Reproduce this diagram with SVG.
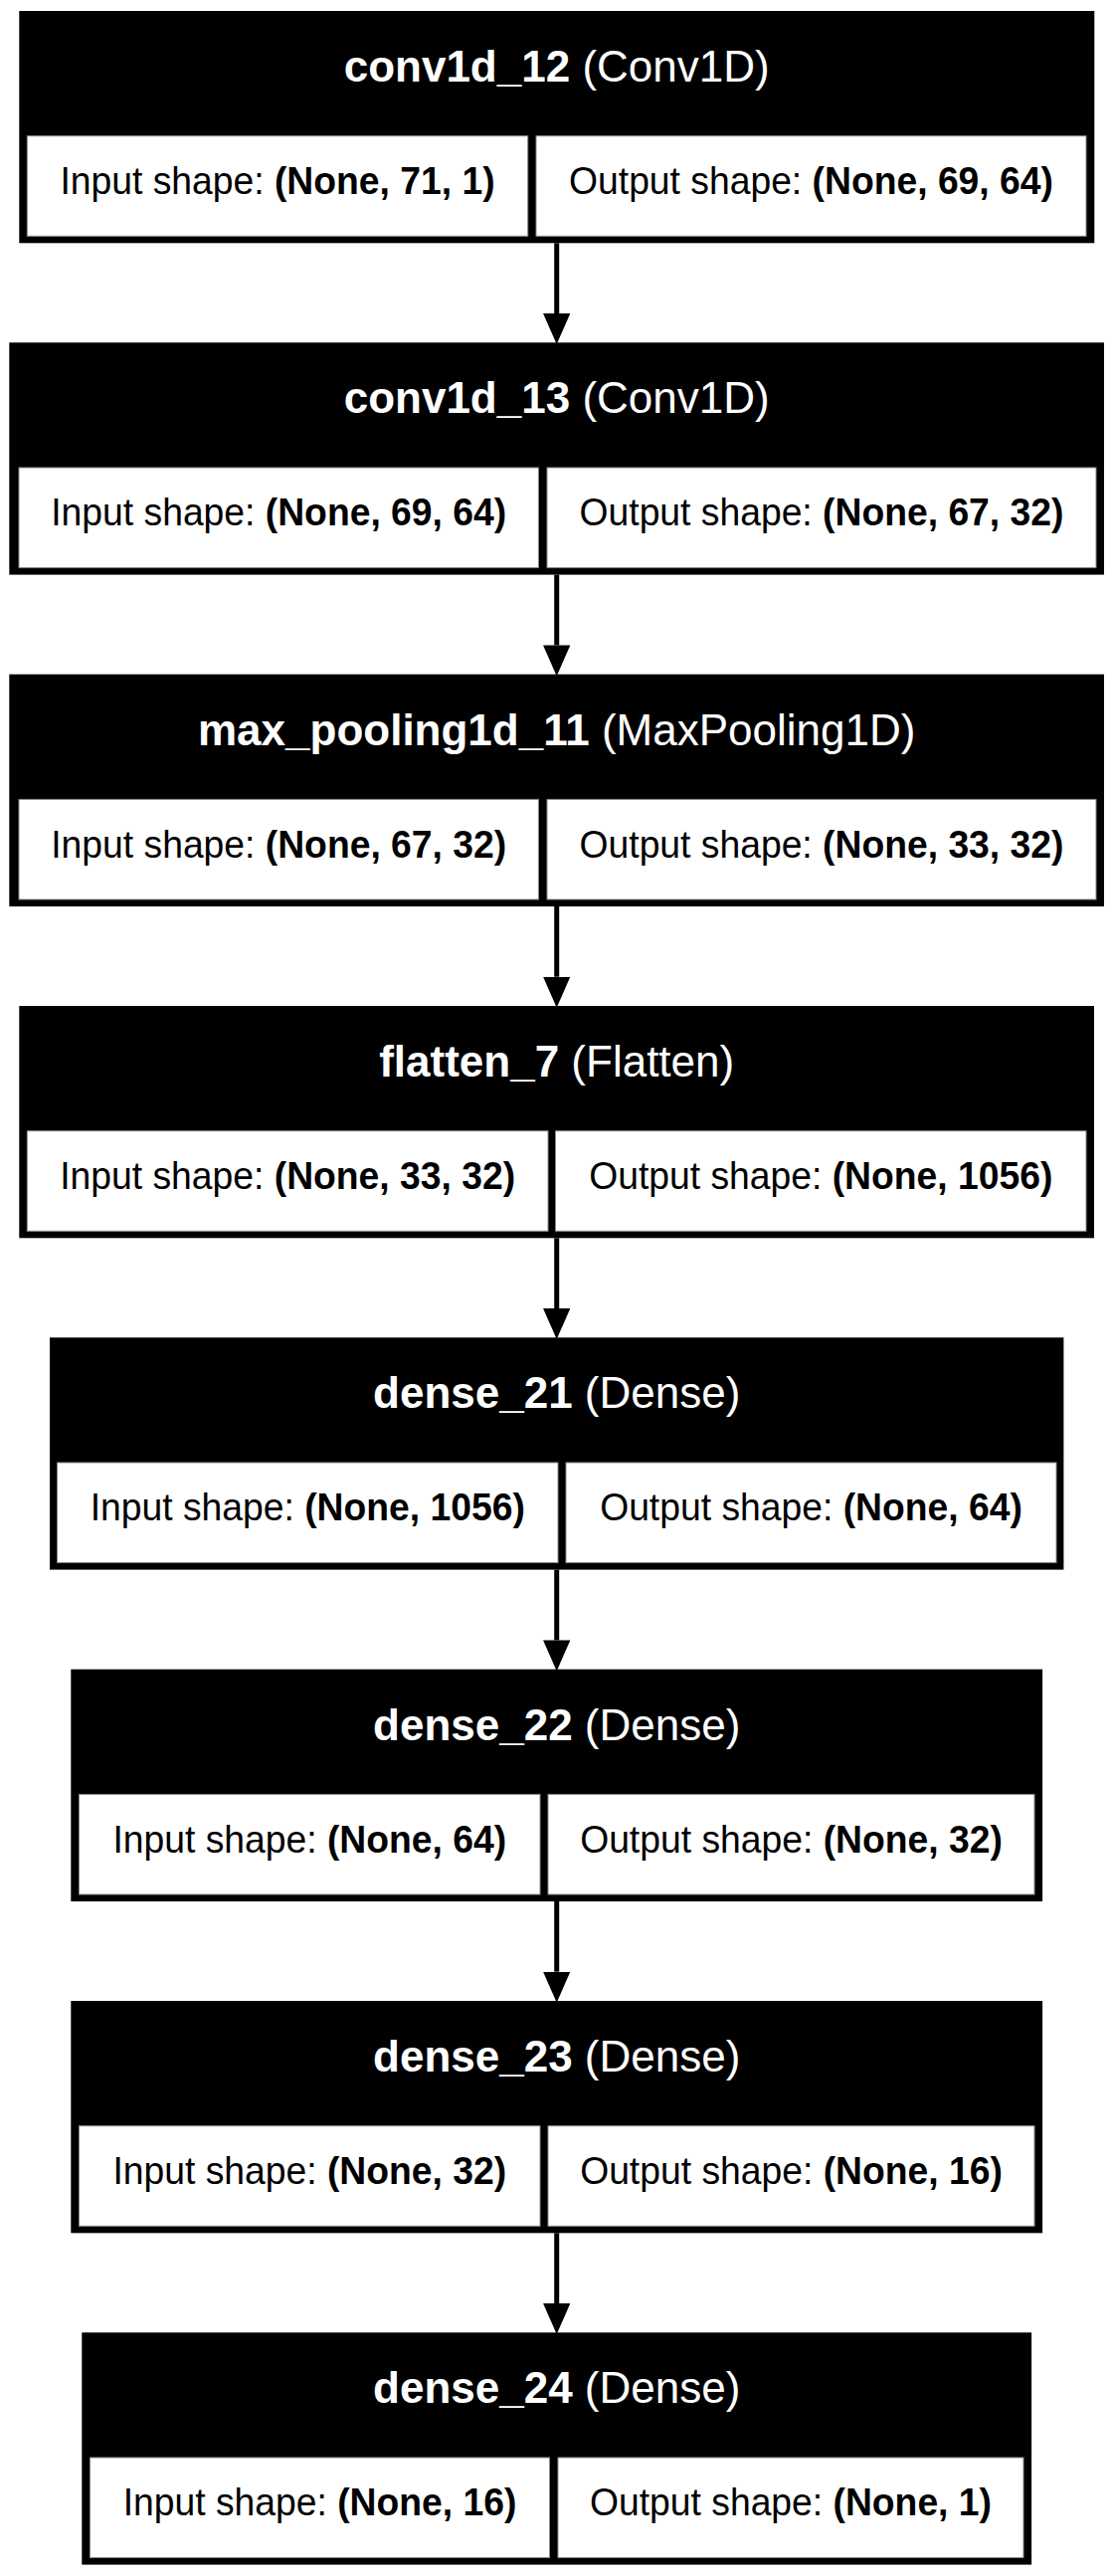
<svg xmlns="http://www.w3.org/2000/svg" width="1119" height="2589" viewBox="0 0 1119 2589">
<style>
.box{fill:#000}
.cell{fill:#fff;stroke:#8a8a8a;stroke-width:1}
.hdr{font-family:"Liberation Sans",Arial,sans-serif;font-size:44px;fill:#fff;text-anchor:middle}
.txt{font-family:"Liberation Sans",Arial,sans-serif;font-size:39px;fill:#000;text-anchor:middle}
.b{font-weight:bold}
.edge{stroke:#000;stroke-width:5;fill:none}
</style>
<defs>
<marker id="arr" markerUnits="userSpaceOnUse" markerWidth="32" markerHeight="28" refX="0" refY="13.65" orient="auto">
<path d="M0,0 L31,13.65 L0,27.3 Z" fill="#000"/>
</marker>
</defs>
<rect width="1119" height="2589" fill="#fff"/>
<g id="connectors">
<line class="edge" x1="559.7" y1="244.3" x2="559.7" y2="315" marker-end="url(#arr)"/>
<line class="edge" x1="559.7" y1="577.6" x2="559.7" y2="648.4" marker-end="url(#arr)"/>
<line class="edge" x1="559.7" y1="911" x2="559.7" y2="981.7" marker-end="url(#arr)"/>
<line class="edge" x1="559.7" y1="1244.3" x2="559.7" y2="1315" marker-end="url(#arr)"/>
<line class="edge" x1="559.7" y1="1577.6" x2="559.7" y2="1648.4" marker-end="url(#arr)"/>
<line class="edge" x1="559.7" y1="1911" x2="559.7" y2="1981.7" marker-end="url(#arr)"/>
<line class="edge" x1="559.7" y1="2244.3" x2="559.7" y2="2315" marker-end="url(#arr)"/>
</g>
<g id="conv1d_12">
<rect class="box" x="19.3" y="11" width="1081" height="233.3"/>
<rect class="cell" x="27.3" y="136.7" width="503.4" height="100.6"/>
<rect class="cell" x="539" y="136.7" width="553" height="100.6"/>
<text class="hdr" x="559.7" y="82"><tspan class="b">conv1d_12</tspan> (Conv1D)</text>
<text class="txt" transform="translate(279 195) scale(0.956 1)">Input shape: <tspan class="b">(None, 71, 1)</tspan></text>
<text class="txt" transform="translate(815.5 195) scale(0.956 1)">Output shape: <tspan class="b">(None, 69, 64)</tspan></text>
</g>
<g id="conv1d_13">
<rect class="box" x="9.3" y="344.3" width="1100.7" height="233.3"/>
<rect class="cell" x="19" y="470" width="522.4" height="100.6"/>
<rect class="cell" x="550" y="470" width="552" height="100.6"/>
<text class="hdr" x="559.7" y="415.3"><tspan class="b">conv1d_13</tspan> (Conv1D)</text>
<text class="txt" transform="translate(280.2 528.3) scale(0.956 1)">Input shape: <tspan class="b">(None, 69, 64)</tspan></text>
<text class="txt" transform="translate(826 528.3) scale(0.956 1)">Output shape: <tspan class="b">(None, 67, 32)</tspan></text>
</g>
<g id="max_pooling1d_11">
<rect class="box" x="9.3" y="677.7" width="1100.7" height="233.3"/>
<rect class="cell" x="19" y="803.4" width="522.4" height="100.6"/>
<rect class="cell" x="550" y="803.4" width="552" height="100.6"/>
<text class="hdr" x="559.7" y="748.7"><tspan class="b">max_pooling1d_11</tspan> (MaxPooling1D)</text>
<text class="txt" transform="translate(280.2 861.7) scale(0.956 1)">Input shape: <tspan class="b">(None, 67, 32)</tspan></text>
<text class="txt" transform="translate(826 861.7) scale(0.956 1)">Output shape: <tspan class="b">(None, 33, 32)</tspan></text>
</g>
<g id="flatten_7">
<rect class="box" x="19.3" y="1011" width="1080.7" height="233.3"/>
<rect class="cell" x="27.3" y="1136.7" width="523.7" height="100.6"/>
<rect class="cell" x="558.5" y="1136.7" width="533.5" height="100.6"/>
<text class="hdr" x="559.7" y="1082"><tspan class="b">flatten_7</tspan> (Flatten)</text>
<text class="txt" transform="translate(289.15 1195) scale(0.956 1)">Input shape: <tspan class="b">(None, 33, 32)</tspan></text>
<text class="txt" transform="translate(825.25 1195) scale(0.956 1)">Output shape: <tspan class="b">(None, 1056)</tspan></text>
</g>
<g id="dense_21">
<rect class="box" x="50" y="1344.3" width="1019.4" height="233.3"/>
<rect class="cell" x="57.5" y="1470" width="503.5" height="100.6"/>
<rect class="cell" x="569" y="1470" width="493" height="100.6"/>
<text class="hdr" x="559.7" y="1415.3"><tspan class="b">dense_21</tspan> (Dense)</text>
<text class="txt" transform="translate(309.25 1528.3) scale(0.956 1)">Input shape: <tspan class="b">(None, 1056)</tspan></text>
<text class="txt" transform="translate(815.5 1528.3) scale(0.956 1)">Output shape: <tspan class="b">(None, 64)</tspan></text>
</g>
<g id="dense_22">
<rect class="box" x="71.3" y="1677.7" width="976.8" height="233.3"/>
<rect class="cell" x="79.5" y="1803.4" width="463.5" height="100.6"/>
<rect class="cell" x="551" y="1803.4" width="489" height="100.6"/>
<text class="hdr" x="559.7" y="1748.7"><tspan class="b">dense_22</tspan> (Dense)</text>
<text class="txt" transform="translate(311.25 1861.7) scale(0.956 1)">Input shape: <tspan class="b">(None, 64)</tspan></text>
<text class="txt" transform="translate(795.5 1861.7) scale(0.956 1)">Output shape: <tspan class="b">(None, 32)</tspan></text>
</g>
<g id="dense_23">
<rect class="box" x="71.3" y="2011" width="976.8" height="233.3"/>
<rect class="cell" x="79.5" y="2136.7" width="463.5" height="100.6"/>
<rect class="cell" x="551" y="2136.7" width="489" height="100.6"/>
<text class="hdr" x="559.7" y="2082"><tspan class="b">dense_23</tspan> (Dense)</text>
<text class="txt" transform="translate(311.25 2195) scale(0.956 1)">Input shape: <tspan class="b">(None, 32)</tspan></text>
<text class="txt" transform="translate(795.5 2195) scale(0.956 1)">Output shape: <tspan class="b">(None, 16)</tspan></text>
</g>
<g id="dense_24">
<rect class="box" x="82.3" y="2344.3" width="954.8" height="233.3"/>
<rect class="cell" x="90.5" y="2470" width="462" height="100.6"/>
<rect class="cell" x="561" y="2470" width="468" height="100.6"/>
<text class="hdr" x="559.7" y="2415.3"><tspan class="b">dense_24</tspan> (Dense)</text>
<text class="txt" transform="translate(321.5 2528.3) scale(0.956 1)">Input shape: <tspan class="b">(None, 16)</tspan></text>
<text class="txt" transform="translate(795 2528.3) scale(0.956 1)">Output shape: <tspan class="b">(None, 1)</tspan></text>
</g>
</svg>
